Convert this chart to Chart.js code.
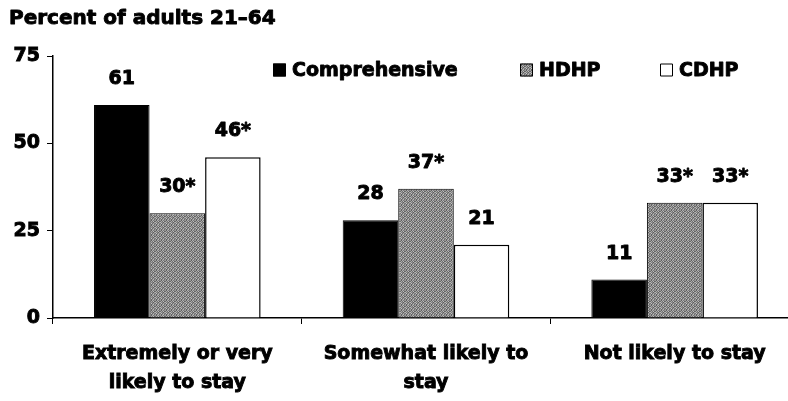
<!DOCTYPE html>
<html>
<head>
<meta charset="utf-8">
<script src="https://cdn.jsdelivr.net/npm/chart.js@4/dist/chart.umd.min.js"></script>
<style>
  html, body { margin: 0; padding: 0; background: #fff; overflow: hidden; }
  #wrap { width: 812px; height: 401px; }
</style>
</head>
<body>
<div id="wrap"><canvas id="c" width="812" height="401"></canvas></div>
<script>
// Likelihood of staying with current plan, by plan type
const categories = [
  ['Extremely or very', 'likely to stay'],
  ['Somewhat likely to', 'stay'],
  ['Not likely to stay']
];
const seriesNames = ['Comprehensive', 'HDHP', 'CDHP'];
const comprehensive = [61, 28, 11];
const hdhp = [30, 37, 33];
const cdhp = [46, 21, 33];
// Significant difference from comprehensive plans
const hdhpSignificant = [true, true, true];
const cdhpSignificant = [true, false, true];
const comprehensiveSignificant = [false, false, false];
const yTicks = [0, 25, 50, 75];

const FONT = '"DejaVu Sans", "Liberation Sans", Arial, sans-serif';
const STROKE = 0.9;

// Speckled grey fill for the HDHP bars
function speckle() {
  const c = document.createElement('canvas');
  c.width = 5; c.height = 5;
  const g = c.getContext('2d');
  const shades = [
    '#9a9a9a','#5e5e5e','#b0b0b0','#7a7a7a','#8c8c8c',
    '#6c6c6c','#a8a8a8','#707070','#c0c0c0','#606060',
    '#b6b6b6','#7e7e7e','#909090','#5a5a5a','#a4a4a4',
    '#747474','#c4c4c4','#686868','#9e9e9e','#838383',
    '#a0a0a0','#626262','#8e8e8e','#b8b8b8','#6a6a6a'
  ];
  for (let i = 0; i < 25; i++) {
    g.fillStyle = shades[i];
    g.fillRect(i % 5, Math.floor(i / 5), 1, 1);
  }
  return g.createPattern(c, 'repeat');
}
const grey = speckle();

const fills = ['#000000', grey, '#ffffff'];
const sigFlags = [comprehensiveSignificant, hdhpSignificant, cdhpSignificant];

function heavyText(ctx, txt, x, y) {
  ctx.lineWidth = STROKE;
  ctx.strokeStyle = '#000';
  ctx.lineJoin = 'round';
  ctx.strokeText(txt, x, y);
  ctx.fillText(txt, x, y);
}

const valueLabels = {
  id: 'valueLabels',
  afterDatasetsDraw(chart) {
    const ctx = chart.ctx;
    ctx.save();
    ctx.font = 'bold 19px ' + FONT;
    ctx.fillStyle = '#000';
    ctx.textAlign = 'center';
    ctx.textBaseline = 'middle';
    chart.data.datasets.forEach((ds, di) => {
      chart.getDatasetMeta(di).data.forEach((bar, i) => {
        const txt = ds.data[i] + (sigFlags[di][i] ? '*' : '');
        heavyText(ctx, txt, bar.x, bar.y - 26);
      });
    });
    ctx.restore();
  }
};

const legendAndTitle = {
  id: 'legendAndTitle',
  afterDraw(chart) {
    const ctx = chart.ctx;
    ctx.save();
    ctx.fillStyle = '#000';
    ctx.textBaseline = 'middle';
    ctx.textAlign = 'left';
    ctx.font = 'bold 20px ' + FONT;
    heavyText(ctx, 'Percent of adults 21\u201364', 9, 19);

    ctx.font = 'bold 19px ' + FONT;
    const items = [
      { x: 273, fill: fills[0] },
      { x: 520, fill: fills[1] },
      { x: 660, fill: fills[2] }
    ];
    const y = 70;
    items.forEach((it, k) => {
      ctx.fillStyle = it.fill;
      ctx.fillRect(it.x, y - 6.5, 13, 13);
      ctx.strokeStyle = '#000';
      ctx.lineWidth = 1;
      ctx.strokeRect(it.x + 0.5, y - 6, 12, 12);
      ctx.fillStyle = '#000';
      heavyText(ctx, seriesNames[k], it.x + 19, y + 1);
    });
    ctx.restore();
  }
};

const tickFont = { family: FONT, size: 19, weight: 'bold' };

new Chart(document.getElementById('c'), {
  type: 'bar',
  data: {
    labels: categories,
    datasets: [
      { label: seriesNames[0], data: comprehensive, backgroundColor: fills[0], borderColor: '#000', borderWidth: 1 },
      { label: seriesNames[1], data: hdhp, backgroundColor: fills[1], borderColor: '#000', borderWidth: 1 },
      { label: seriesNames[2], data: cdhp, backgroundColor: fills[2], borderColor: '#000', borderWidth: 1.5 }
    ]
  },
  options: {
    responsive: false,
    animation: false,
    events: [],
    layout: { padding: { top: 56, right: 13, left: 0, bottom: 0 } },
    datasets: { bar: { categoryPercentage: 0.67, barPercentage: 1.0 } },
    plugins: { legend: { display: false }, tooltip: { enabled: false } },
    scales: {
      x: {
        offset: true,
        grid: { offset: true, drawOnChartArea: false, color: '#000', tickLength: 6, lineWidth: 1 },
        border: { color: '#000', width: 1.5 },
        ticks: {
          color: '#000', font: Object.assign({ lineHeight: 1.5 }, tickFont), padding: 16,
          maxRotation: 0, autoSkip: false, textStrokeColor: '#000', textStrokeWidth: STROKE
        },
        afterFit(s) { s.height = 83; }
      },
      y: {
        min: 0, max: 75,
        afterBuildTicks(s) { s.ticks = yTicks.map(v => ({ value: v })); },
        grid: { drawOnChartArea: false, color: '#000', tickLength: 6, lineWidth: 1 },
        border: { color: '#000', width: 1.5 },
        ticks: { color: '#000', font: tickFont, padding: 7, textStrokeColor: '#000', textStrokeWidth: STROKE },
        afterFit(s) { s.width = 53; }
      }
    }
  },
  plugins: [valueLabels, legendAndTitle]
});
</script>
</body>
</html>
